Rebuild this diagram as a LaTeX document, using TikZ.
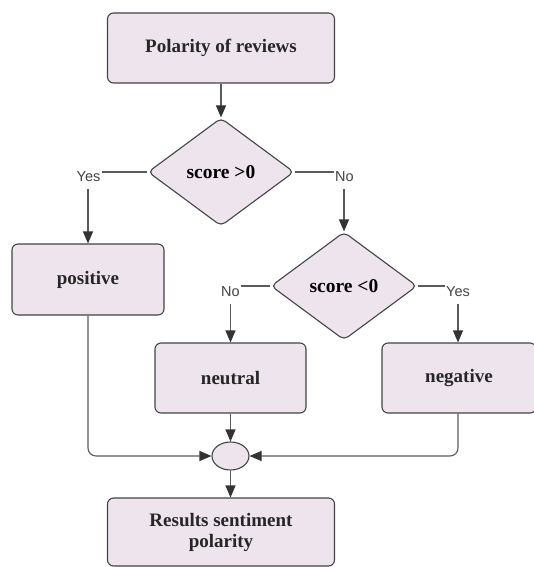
\documentclass[tikz,border=0pt]{standalone}
\usepackage{fontspec}
\setmainfont{Liberation Serif}
\newfontfamily\lblfont{Liberation Sans}
\usetikzlibrary{shapes.geometric,arrows.meta}
\definecolor{boxfill}{HTML}{EDE4EE}
\definecolor{boxline}{HTML}{444444}
\definecolor{wire}{HTML}{5A5A5A}
\definecolor{tip}{HTML}{333333}
\definecolor{lbl}{HTML}{444444}
\tikzset{
  stepbox/.style={rectangle, rounded corners=6pt, draw=boxline, fill=boxfill,
    line width=1.1pt, inner sep=2pt, align=center, text=black!85,
    font=\fontsize{19}{21}\selectfont\bfseries},
  decision/.style={diamond, draw=boxline, fill=boxfill, line width=1.1pt,
    rounded corners=5pt, inner sep=0pt, minimum width=146pt, minimum height=108pt,
    text=black, font=\fontsize{19.5}{22}\selectfont\bfseries},
  merge/.style={ellipse, draw=boxline, fill=boxfill, line width=1.1pt,
    inner sep=0pt, minimum width=37pt, minimum height=28pt},
  wirearrow/.style={draw=wire, line width=1.1pt,
    -{Triangle[length=12pt,width=10pt,color=tip]}},
  branch/.style={fill=white, text=lbl, inner xsep=1.5pt, inner ysep=0pt,
    minimum height=24pt, font=\lblfont\fontsize{14.5}{16}\selectfont},
}
\begin{document}
\begin{tikzpicture}[x=1pt, y=-1pt]
  \useasboundingbox (0,0) rectangle (534,567);

  % process boxes
  \node[stepbox, minimum width=227pt, minimum height=70pt] (top) at (221,48) {Polarity of reviews};
  \node[stepbox, minimum width=152pt, minimum height=71pt] (pos) at (88,279.5) {positive};
  \node[stepbox, minimum width=151pt, minimum height=70pt] (neu) at (230.5,378) {neutral};
  \node[stepbox, minimum width=154pt, minimum height=70pt] (neg) at (459,378) {negative};
  \node[stepbox, minimum width=227pt, minimum height=68pt] (res) at (221,532)
    {Results sentiment\\polarity};

  % decisions
  \node[decision] (d1) at (221,172) {score >0};
  \node[decision] (d2) at (344,286) {score <0};

  % junction
  \node[merge] (mj) at (230.5,456) {};

  % connectors
  \draw[wirearrow] (top) -- (d1);
  \draw[wirearrow] (d1.west) -| (pos.north);
  \draw[wirearrow] (d1.east) -| (d2.north);
  \draw[wirearrow] (d2.west) -| (neu.north);
  \draw[wirearrow] (d2.east) -| ([xshift=-1pt]neg.north);
  \draw[wirearrow, rounded corners=8pt] (pos.south) |- (mj.west);
  \draw[wirearrow, rounded corners=8pt] ([xshift=-1pt]neg.south) |- (mj.east);
  \draw[wirearrow] (neu.south) -- (mj.north);
  \draw[wirearrow] (mj.south) -- (mj.south |- res.north);

  % branch labels
  \node[branch] (y1) at (88.5,177) {Yes};
  \node[branch] (n1) at (344.5,177) {No};
  \node[branch] (n2) at (230.5,292) {No};
  \node[branch] (y2) at (458,292) {Yes};
\end{tikzpicture}
\end{document}
